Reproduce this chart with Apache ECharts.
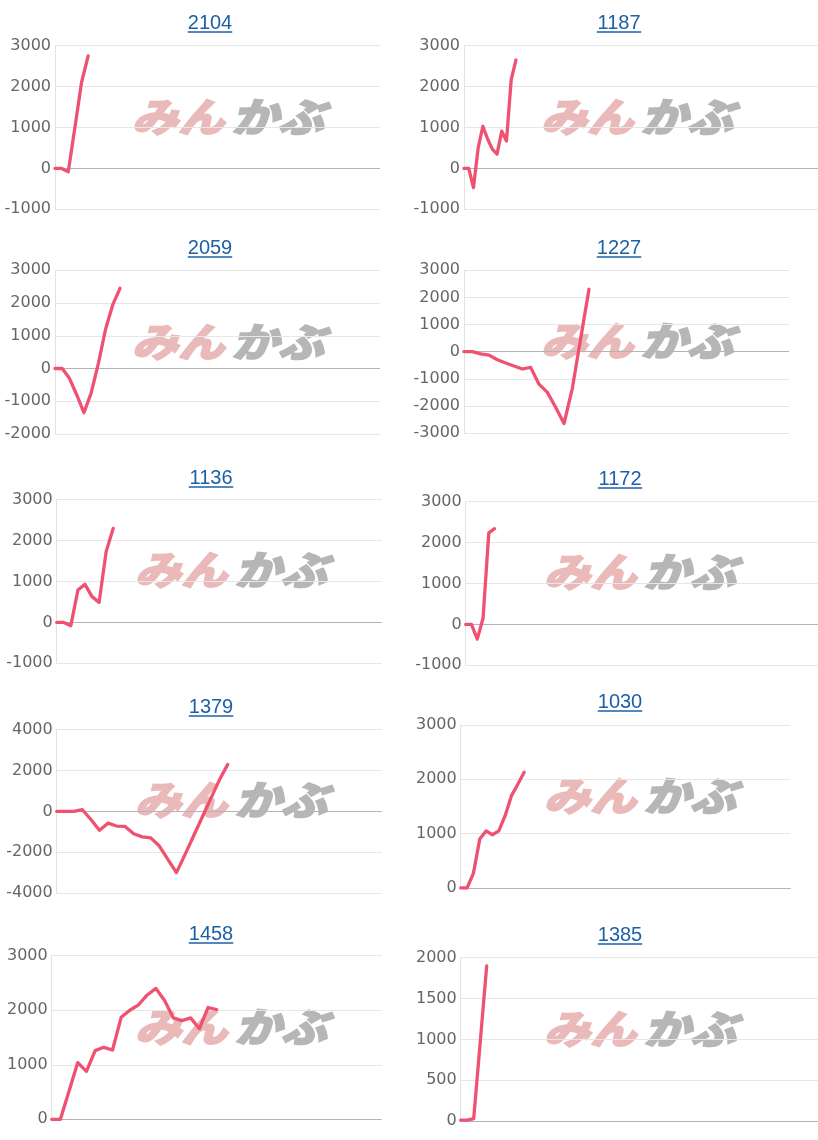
<!DOCTYPE html>
<html>
<head>
<meta charset="utf-8">
<script src="https://cdn.jsdelivr.net/npm/echarts@6/dist/echarts.min.js"></script>
<style>
html, body { margin: 0; padding: 0; background: #fff; }
#chart { width: 818px; height: 1140px; }
</style>
</head>
<body>
<div id="chart"></div>
<script>
// 銘柄コード
const codes = ['2104', '1187', '2059', '1227', '1136', '1172', '1379', '1030', '1458', '1385']
// 横軸の日数
const dayCounts = [50, 76, 46, 40, 47, 62, 39, 53, 39, 56]
// 縦軸の目盛り
const yMins = [-1000, -1000, -2000, -3000, -1000, -1000, -4000, 0, 0, 0]
const yMaxs = [3000, 3000, 3000, 3000, 3000, 3000, 4000, 3000, 3000, 2000]
const ySteps = [1000, 1000, 1000, 1000, 1000, 1000, 2000, 1000, 1000, 500]

// 損益の推移
const pl2104 = [0, 0, -80, 1000, 2100, 2750]
const pl1187 = [0, 0, -470, 500, 1030, 720, 470, 350, 910, 670, 2170, 2650]
const pl2059 = [0, 0, -300, -800, -1350, -750, 150, 1200, 1950, 2450]
const pl1227 = [0, 0, -80, -130, -300, -420, -530, -640, -580, -1200, -1500, -2050, -2650, -1350, 480, 2300]
const pl1136 = [0, 0, -80, 790, 930, 630, 490, 1730, 2300]
const pl1172 = [0, 0, -360, 150, 2240, 2340]
const pl1379 = [0, 0, 0, 80, -400, -930, -580, -720, -740, -1100, -1250, -1300, -1700, -2350, -3000, -2120, -1210, -300, 610, 1520, 2300]
const pl1030 = [0, 0, 270, 900, 1050, 980, 1050, 1330, 1700, 1910, 2130]
const pl1458 = [0, 0, 520, 1040, 880, 1260, 1320, 1270, 1870, 2000, 2100, 2280, 2400, 2180, 1860, 1810, 1860, 1660, 2050, 2010]
const pl1385 = [10, 10, 30, 960, 1900]
const plList = [pl2104, pl1187, pl2059, pl1227, pl1136, pl1172, pl1379, pl1030, pl1458, pl1385]

// レイアウト（左, 上, 幅, 高さ）
const rects = [
  [55, 45.7, 325, 163.6], [464, 45.7, 354, 163.6],
  [55, 270.3, 325, 163.7], [464, 270.3, 325, 162.7],
  [56.7, 499.7, 325, 163.6], [465.7, 501.7, 352.3, 163.6],
  [56.7, 729.7, 325, 163.3], [460.7, 725, 330, 163],
  [51.7, 955.7, 330, 163.6], [460.7, 957.7, 357.3, 163.3]
]
const titlePos = [
  [210, 23], [619, 23], [210, 248], [619, 248], [211, 478],
  [620, 479], [211, 707], [620, 702], [211, 934], [620, 935]
]
const markPos = [
  [228, 117], [637, 117], [228, 342], [637, 341], [231, 570],
  [640, 572], [231, 800], [640, 796], [231, 1027], [640, 1029]
]

const lineColor = '#ef5170'
const linkColor = '#1d60a6'

const myChart = echarts.init(document.getElementById('chart'))

const grid = []
const xAxis = []
const yAxis = []
const seriesList = []
const graphic = []

codes.forEach((code, i) => {
  const r = rects[i]
  grid.push({ left: r[0], top: r[1], width: r[2], height: r[3] })

  const days = []
  for (let d = 1; d <= dayCounts[i]; d++) days.push(String(d))
  xAxis.push({
    gridIndex: i,
    type: 'category',
    data: days,
    boundaryGap: false,
    show: false
  })

  // 0 の線だけ濃くする
  const splitColors = []
  for (let v = yMins[i]; v <= yMaxs[i]; v += ySteps[i]) {
    splitColors.push(v === 0 ? '#b4b4b4' : '#e6e6e6')
  }
  yAxis.push({
    gridIndex: i,
    type: 'value',
    min: yMins[i],
    max: yMaxs[i],
    interval: ySteps[i],
    axisLine: { show: true, lineStyle: { color: '#e2e2e2' } },
    axisTick: { show: false },
    axisLabel: {
      color: '#666',
      fontSize: 16,
      fontFamily: 'DejaVu Sans',
      margin: 4,
      formatter: (v) => String(v)
    },
    splitLine: { show: true, lineStyle: { color: splitColors, width: 1 } }
  })

  seriesList.push({
    name: code,
    type: 'line',
    xAxisIndex: i,
    yAxisIndex: i,
    data: plList[i],
    showSymbol: false,
    smooth: false,
    z: 5,
    lineStyle: { color: lineColor, width: 3.3, join: 'round', cap: 'round' },
    itemStyle: { color: lineColor }
  })

  // タイトル（リンク風の下線つき）
  const tp = titlePos[i]
  const tw = code.length * 0.556 * 20
  graphic.push({
    type: 'text',
    x: tp[0],
    y: tp[1],
    z: 10,
    style: {
      text: code,
      fill: linkColor,
      font: '20px "Liberation Sans", Arial, sans-serif',
      align: 'center',
      verticalAlign: 'middle',
      textAlign: 'center',
      textVerticalAlign: 'middle'
    }
  })
  graphic.push({
    type: 'line',
    z: 10,
    shape: { x1: tp[0] - tw / 2, y1: tp[1] + 9, x2: tp[0] + tw / 2, y2: tp[1] + 9 },
    style: { stroke: linkColor, lineWidth: 1.3 }
  })

  // 透かしロゴ
  const mp = markPos[i]
  graphic.push({
    type: 'group',
    x: mp[0],
    y: mp[1],
    scaleX: 1.16,
    z: 1,
    silent: true,
    children: [
      {
        type: 'text',
        x: -3,
        y: 0,
        style: {
          text: 'みん',
          fill: '#eab9b9',
          font: 'italic 900 40px "Noto Sans CJK JP"',
          stroke: '#eab9b9',
          lineWidth: 1.5,
          align: 'right',
          verticalAlign: 'middle',
          textAlign: 'right',
          textVerticalAlign: 'middle'
        }
      },
      {
        type: 'text',
        x: 3,
        y: 0,
        style: {
          text: 'かぶ',
          fill: '#b6b6b6',
          font: 'italic 900 40px "Noto Sans CJK JP"',
          stroke: '#b6b6b6',
          lineWidth: 1.5,
          align: 'left',
          verticalAlign: 'middle',
          textAlign: 'left',
          textVerticalAlign: 'middle'
        }
      }
    ]
  })
})

const option = {
  animation: false,
  backgroundColor: '#fff',
  grid: grid,
  xAxis: xAxis,
  yAxis: yAxis,
  series: seriesList,
  graphic: graphic
}
myChart.setOption(option)
</script>
</body>
</html>
